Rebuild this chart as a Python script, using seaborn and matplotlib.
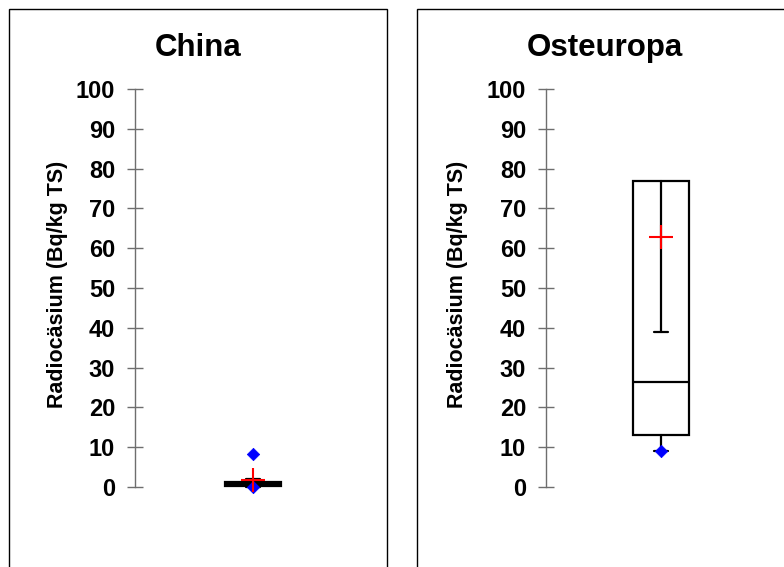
import numpy as np
import seaborn as sns
import matplotlib.pyplot as plt
from matplotlib.patches import Rectangle

# Werte
regions = ['China', 'Osteuropa']
q1 = [0.3, 13.0]
median = [0.8, 26.5]
q3 = [1.3, 77.0]
whisker_low = [0.0, 9.0]
whisker_high = [2.0, 39.0]
means = [1.7, 62.8]
extremes = [[0.0, 8.3], [9.0]]

ylabel = 'Radiocäsium (Bq/kg TS)'

sns.set_style('white')
plt.rcParams['font.family'] = ['Liberation Sans', 'DejaVu Sans']
plt.rcParams['font.weight'] = 'bold'
plt.rcParams['text.color'] = 'black'
plt.rcParams['ytick.color'] = 'black'

W, H = 784, 567
fig = plt.figure(figsize=(W / 100, H / 100), dpi=100)

# layout in pixels: (spine x, axes width, frame left, frame right, title x, ylabel x)
layout = [
    (135, 236, 9, 387, 198, 58),
    (546, 230, 417, 800, 605, 457),
]
bottom = 1 - 499 / H
top = 1 - 81 / H

for i, name in enumerate(regions):
    sx, aw, fl, fr, tx, lx = layout[i]
    fig.add_artist(Rectangle((fl / W, -0.05), (fr - fl) / W, (H - 9) / H + 0.05,
                             transform=fig.transFigure, fill=False,
                             ec='black', lw=1))
    ax = fig.add_axes([sx / W, bottom, aw / W, top - bottom])
    stats = [dict(med=median[i], q1=q1[i], q3=q3[i],
                  whislo=whisker_low[i], whishi=whisker_high[i],
                  fliers=[], label=name)]
    lw = 1.6
    ax.bxp(stats, positions=[0], widths=0.24, capwidths=0.06,
           showfliers=False, patch_artist=True,
           boxprops=dict(facecolor='white', edgecolor='black', linewidth=lw),
           medianprops=dict(color='black', linewidth=lw),
           whiskerprops=dict(color='black', linewidth=lw),
           capprops=dict(color='black', linewidth=lw))
    sns.scatterplot(x=[0] * len(extremes[i]), y=extremes[i], marker='D',
                    s=40, color='blue', edgecolor='blue', ax=ax, zorder=4)
    sns.scatterplot(x=[0], y=[means[i]], marker='+', s=300, color='red',
                    linewidth=1.5, ax=ax, zorder=5)

    ax.set_xlim(-0.5, 0.5)
    ax.set_ylim(-3, 102)
    ax.set_yticks(np.arange(0, 101, 10))
    ax.set_xticks([])
    for s in ['top', 'right', 'bottom']:
        ax.spines[s].set_visible(False)
    ax.spines['left'].set_bounds(0, 100)
    ax.spines['left'].set_color('#6e6e6e')
    ax.spines['left'].set_linewidth(1)
    ax.tick_params(axis='y', left=True, direction='inout', length=11.5,
                   width=1, color='#6e6e6e', labelcolor='black', pad=8.5,
                   labelsize=17)
    for t in ax.get_yticklabels():
        t.set_fontweight('bold')
    ax.patch.set_alpha(0)

    fig.text(tx / W, 1 - 48 / H, name, ha='center', va='center',
             fontsize=22.5, fontweight='bold')
    fig.text(lx / W, 1 - 284 / H, ylabel, rotation=90, ha='center',
             va='center', fontsize=15.5, fontweight='bold')

fig.savefig('out.png', dpi=100)
